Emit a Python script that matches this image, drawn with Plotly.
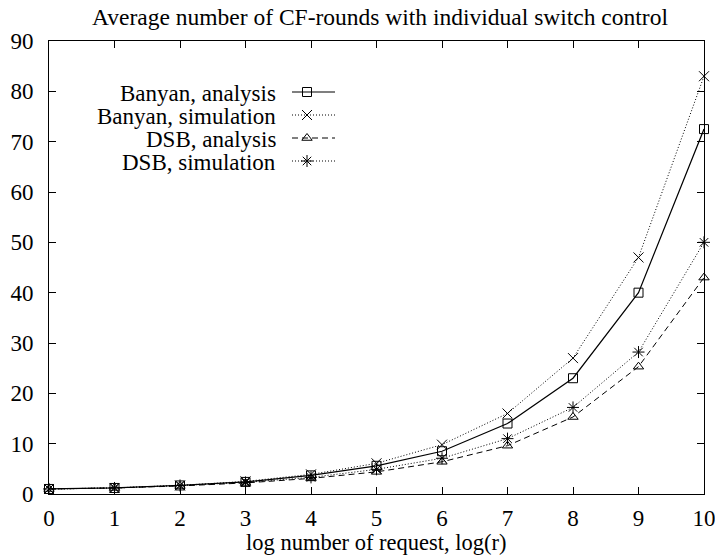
import plotly.graph_objects as go

x_vals = [0, 1, 2, 3, 4, 5, 6, 7, 8, 9, 10]
banyan_analysis = [1.0, 1.2, 1.7, 2.4, 3.7, 5.6, 8.5, 14.0, 23.0, 40.0, 72.5]
banyan_simulation = [1.0, 1.2, 1.7, 2.5, 3.9, 6.1, 9.8, 16.0, 27.0, 47.0, 83.0]
dsb_analysis = [1.0, 1.2, 1.6, 2.2, 3.1, 4.4, 6.4, 9.6, 15.3, 25.3, 43.0]
dsb_simulation = [1.0, 1.2, 1.7, 2.3, 3.3, 4.9, 7.1, 11.0, 17.2, 28.2, 50.0]

series_names = ["Banyan, analysis", "Banyan, simulation", "DSB, analysis", "DSB, simulation"]
series_values = [banyan_analysis, banyan_simulation, dsb_analysis, dsb_simulation]
x_ticks = list(range(0, 11))
y_ticks = list(range(0, 91, 10))

styles = [
    dict(dash="solid", width=1.2, symbol="square-open", size=9),
    dict(dash="1px,2px", width=1.0, symbol="x-thin-open", size=10),
    dict(dash="6px,4px", width=1.0, symbol="triangle-up-open", size=9),
    dict(dash="1px,2px", width=1.0, symbol="asterisk-open", size=10),
]

FONT = "Liberation Serif"
FS = 23

fig = go.Figure()
for name, vals, st in zip(series_names, series_values, styles):
    fig.add_trace(go.Scatter(
        x=x_vals, y=vals, mode="lines+markers", name=name, showlegend=False,
        line=dict(color="black", width=st["width"], dash=st["dash"]),
        marker=dict(symbol=st["symbol"], size=st["size"], color="black",
                    line=dict(color="black", width=1)),
        cliponaxis=False,
    ))

# gnuplot-style key (text right-aligned, sample to its right) on overlay pixel axes
leg_rows = [92, 115, 138, 161]
for i, (name, st) in enumerate(zip(series_names, styles)):
    yy = leg_rows[i]
    fig.add_trace(go.Scatter(
        x=[292, 335], y=[yy, yy], mode="lines", xaxis="x2", yaxis="y2",
        showlegend=False, hoverinfo="skip",
        line=dict(color="black", width=st["width"], dash=st["dash"]),
    ))
    fig.add_trace(go.Scatter(
        x=[307], y=[yy], mode="markers", xaxis="x2", yaxis="y2",
        showlegend=False, hoverinfo="skip",
        marker=dict(symbol=st["symbol"], size=st["size"], color="black",
                    line=dict(color="black", width=1)),
    ))
    fig.add_annotation(x=278, y=yy + 1, xref="x2", yref="y2", text=name,
                       showarrow=False, xanchor="right", yanchor="middle",
                       font=dict(family=FONT, size=FS, color="black"))

# x-axis title as an annotation placed just under the tick labels
fig.add_annotation(x=0.5, y=-(542 - 494) / (494 - 41), xref="paper", yref="paper",
                   text="log number of request, log(r)", showarrow=False,
                   xanchor="center", yanchor="middle",
                   font=dict(family=FONT, size=22.5, color="black"))

fig.update_layout(
    width=715, height=556,
    margin=dict(l=49, r=11, t=41, b=62, autoexpand=False),
    paper_bgcolor="white", plot_bgcolor="white",
    font=dict(family=FONT, size=FS, color="black"),
    title=dict(text="Average number of CF-rounds with individual switch control",
               x=(380 - 49) / 655, xref="paper", xanchor="center",
               y=1 - 17 / 556, yanchor="middle", automargin=False,
               font=dict(family=FONT, size=23.5, color="black")),
    xaxis=dict(range=[0, 10], tickvals=x_ticks, ticks="inside", ticklen=7,
               mirror="ticks", showline=True, linecolor="black", linewidth=1,
               showgrid=False, zeroline=False, tickcolor="black", automargin=False,
               tickfont=dict(family=FONT, size=FS, color="black"),
               ticklabelstandoff=3, ticklabeloverflow="allow"),
    yaxis=dict(range=[0, 90], tickvals=y_ticks, ticks="inside", ticklen=7,
               mirror="ticks", showline=True, linecolor="black", linewidth=1,
               showgrid=False, zeroline=False, tickcolor="black", automargin=False,
               tickfont=dict(family=FONT, size=FS, color="black"),
               ticklabelstandoff=10, ticklabeloverflow="allow"),
    xaxis2=dict(overlaying="x", range=[49, 704], visible=False),
    yaxis2=dict(overlaying="y", range=[494, 41], visible=False),
)

fig.write_html("out.html",
               config={"displayModeBar": False},
               post_script="document.body.style.margin='0px';"
                           "document.body.style.overflow='hidden';")
